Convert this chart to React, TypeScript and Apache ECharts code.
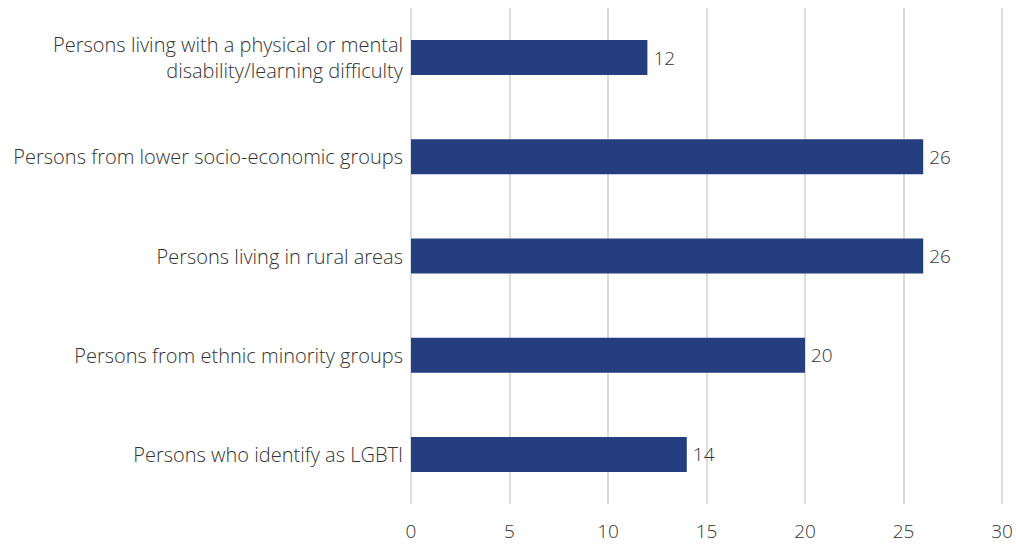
import React, { useEffect, useRef } from "react";
import * as echarts from "echarts";

const categories = [
  "Persons living with a physical or mental\ndisability/learning difficulty",
  "Persons from lower socio-economic groups",
  "Persons living in rural areas",
  "Persons from ethnic minority groups",
  "Persons who identify as LGBTI",
];
const values = [12, 26, 26, 20, 14];
const xTicks = { min: 0, max: 30, interval: 5 };

const FONT = "'Open Sans'";
const TEXT = "#333333";

export default function App() {
  const ref = useRef<HTMLDivElement>(null);
  useEffect(() => {
    if (!ref.current) return;
    const chart = echarts.init(ref.current, null, { renderer: "svg" });
    chart.setOption({
      animation: false,
      backgroundColor: "#ffffff",
      grid: { left: 411, right: 14, top: 8, bottom: 41, containLabel: false },
      xAxis: {
        type: "value",
        min: xTicks.min,
        max: xTicks.max,
        interval: xTicks.interval,
        axisLine: { show: false },
        axisTick: { show: false },
        splitLine: { show: true, lineStyle: { color: "#d0d0d0", width: 1.5 } },
        axisLabel: { color: TEXT, fontFamily: FONT, fontSize: 19, fontWeight: 300, margin: 17 },
      },
      yAxis: {
        type: "category",
        inverse: true,
        data: categories,
        axisLine: { show: false },
        axisTick: { show: false },
        splitLine: { show: false },
        axisLabel: {
          color: TEXT,
          fontFamily: FONT,
          fontSize: 20,
          fontWeight: 300,
          margin: 8,
          align: "right",
          lineHeight: 26,
        },
      },
      series: [
        {
          type: "bar",
          data: values,
          barWidth: 35,
          itemStyle: { color: "#253e7f" },
          label: {
            show: true,
            position: "right",
            distance: 6,
            color: TEXT,
            fontFamily: FONT,
            fontSize: 19,
            fontWeight: 300,
          },
        },
      ],
    });
    return () => chart.dispose();
  }, []);
  return (
    <div
      ref={ref}
      style={{ width: 1016, height: 545, position: "absolute", left: 0, top: 0 }}
    />
  );
}
